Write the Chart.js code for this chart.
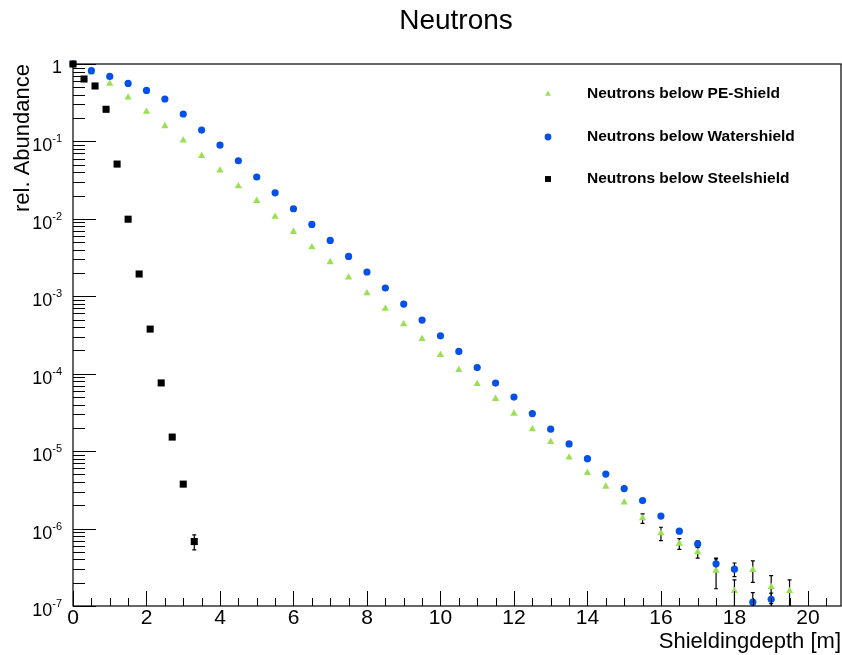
<!DOCTYPE html>
<html>
<head>
<meta charset="utf-8">
<title>Neutrons</title>
<script src="https://cdn.jsdelivr.net/npm/chart.js@4.4.0/dist/chart.umd.min.js"></script>
<style>
  html, body { margin: 0; padding: 0; background: #fff; overflow: hidden; }
  #wrap { width: 842px; height: 655px; position: relative; }
</style>
</head>
<body>
<div id="wrap"><canvas id="chart"></canvas></div>
<script>
var fontFam = '"Liberation Sans", Arial, Helvetica, sans-serif';

// PE shield (green triangles)
var peDepth = [0, 0.5, 1, 1.5, 2, 2.5, 3, 3.5, 4, 4.5, 5, 5.5, 6, 6.5, 7, 7.5, 8, 8.5, 9, 9.5,
  10, 10.5, 11, 11.5, 12, 12.5, 13, 13.5, 14, 14.5, 15, 15.5, 16, 16.5, 17, 17.5, 18, 18.5, 19, 19.5];
var peAbund = [1, 0.779, 0.556, 0.370, 0.242, 0.158, 0.103, 0.0648, 0.0422, 0.0265, 0.0171, 0.0107,
  0.00681, 0.00432, 0.00277, 0.00175, 0.00110, 6.9e-4, 4.37e-4, 2.82e-4, 1.75e-4, 1.12e-4, 7.4e-5,
  4.74e-5, 3.06e-5, 1.92e-5, 1.32e-5, 8.3e-6, 5.25e-6, 3.49e-6, 2.17e-6, 1.36e-6, 8.7e-7, 6.4e-7,
  4.95e-7, 2.87e-7, 1.57e-7, 2.92e-7, 1.77e-7, 1.57e-7];
var peErr = [0, 0, 0, 0, 0, 0, 0, 0, 0, 0, 0, 0, 0, 0, 0, 0, 0, 0, 0, 0,
  0, 0, 0, 0, 0, 0, 0, 0, 0, 0, 0, 1.9e-7, 1.7e-7, 1.0e-7, 0.8e-7, 1.2e-7, 0.6e-7, 0.9e-7, 0.7e-7, 0.6e-7];

// water shield (blue circles)
var waterDepth = [0, 0.5, 1, 1.5, 2, 2.5, 3, 3.5, 4, 4.5, 5, 5.5, 6, 6.5, 7, 7.5, 8, 8.5, 9, 9.5,
  10, 10.5, 11, 11.5, 12, 12.5, 13, 13.5, 14, 14.5, 15, 15.5, 16, 16.5, 17, 17.5, 18, 18.5, 19];
var waterAbund = [1, 0.819, 0.692, 0.561, 0.456, 0.353, 0.226, 0.140, 0.0898, 0.0563, 0.0347, 0.0217,
  0.0135, 0.00847, 0.00526, 0.00327, 0.00206, 0.00128, 7.93e-4, 4.93e-4, 3.09e-4, 1.94e-4, 1.20e-4,
  7.57e-5, 4.99e-5, 3.06e-5, 1.92e-5, 1.24e-5, 8.0e-6, 5.05e-6, 3.29e-6, 2.30e-6, 1.45e-6, 9.25e-7,
  6.34e-7, 3.50e-7, 2.99e-7, 1.12e-7, 1.22e-7];
var waterErr = [0, 0, 0, 0, 0, 0, 0, 0, 0, 0, 0, 0, 0, 0, 0, 0, 0, 0, 0, 0,
  0, 0, 0, 0, 0, 0, 0, 0, 0, 0, 0, 0, 0, 0.5e-7, 0.6e-7, 0.65e-7, 0.6e-7, 0.37e-7, 0.25e-7];

// steel shield (black squares)
var steelDepth = [0, 0.3, 0.6, 0.9, 1.2, 1.5, 1.8, 2.1, 2.4, 2.7, 3.0, 3.3];
var steelAbund = [1, 0.64, 0.52, 0.26, 0.051, 0.0099, 0.00194, 3.77e-4, 7.6e-5, 1.52e-5, 3.75e-6, 6.8e-7];
var steelErr = [0, 0, 0, 0, 0, 0, 0, 0, 0, 0, 0, 1.5e-7];

var seriesNames = ['Neutrons below PE-Shield', 'Neutrons below Watershield', 'Neutrons below Steelshield'];
var xTicks = [0, 2, 4, 6, 8, 10, 12, 14, 16, 18, 20];
var yTicks = [1e-7, 1e-6, 1e-5, 1e-4, 1e-3, 1e-2, 1e-1, 1];
var yTickBase = ['10', '10', '10', '10', '10', '10', '10', '1'];
var yTickExp = ['-7', '-6', '-5', '-4', '-3', '-2', '-1', ''];

function toPoints(xs, ys) {
  var pts = [];
  for (var i = 0; i < xs.length; i++) {
    pts.push({x: xs[i], y: ys[i]});
  }
  return pts;
}

function drawMarker(ctx, style, x, y, r, color) {
  ctx.fillStyle = color;
  ctx.beginPath();
  if (style == 'triangle') {
    ctx.moveTo(x, y - r);
    ctx.lineTo(x + r * 0.866, y + r * 0.5);
    ctx.lineTo(x - r * 0.866, y + r * 0.5);
    ctx.closePath();
  } else if (style == 'circle') {
    ctx.arc(x, y, r, 0, Math.PI * 2);
  } else {
    ctx.rect(x - r * 0.707, y - r * 0.707, r * 1.414, r * 1.414);
  }
  ctx.fill();
}

var rootLook = {
  id: 'rootLook',
  beforeDatasetsDraw: function(chart) {
    var ctx = chart.ctx;
    var ys = chart.scales.y;
    var area = chart.chartArea;
    ctx.save();
    ctx.strokeStyle = '#000';
    ctx.lineWidth = 1.2;
    chart.data.datasets.forEach(function(ds, i) {
      var meta = chart.getDatasetMeta(i);
      if (!ds.errors) return;
      for (var j = 0; j < ds.errors.length; j++) {
        var e = ds.errors[j];
        if (!e) continue;
        var v = ds.data[j].y;
        var px = meta.data[j].x;
        var top = ys.getPixelForValue(v + e);
        var bot = (v - e) > ys.min ? ys.getPixelForValue(v - e) : area.bottom;
        ctx.beginPath();
        ctx.moveTo(px, top);
        ctx.lineTo(px, bot);
        ctx.moveTo(px - 2, top);
        ctx.lineTo(px + 2, top);
        if (bot < area.bottom) {
          ctx.moveTo(px - 2, bot);
          ctx.lineTo(px + 2, bot);
        }
        ctx.stroke();
      }
    });
    ctx.restore();
  },
  afterDraw: function(chart) {
    var ctx = chart.ctx;
    var a = chart.chartArea;
    var xs = chart.scales.x;
    var ys = chart.scales.y;
    ctx.save();
    ctx.strokeStyle = '#000';
    ctx.lineWidth = 1.2;
    ctx.strokeRect(a.left, a.top, a.right - a.left, a.bottom - a.top);

    // tick marks inside the frame, root style
    ctx.lineWidth = 1;
    ctx.beginPath();
    for (var k = 0; k < yTicks.length; k++) {
      var py = Math.round(ys.getPixelForValue(yTicks[k])) + 0.5;
      ctx.moveTo(a.left, py);
      ctx.lineTo(a.left + 23, py);
      if (k < yTicks.length - 1) {
        for (var m = 2; m <= 9; m++) {
          var pm = Math.round(ys.getPixelForValue(m * yTicks[k])) + 0.5;
          ctx.moveTo(a.left, pm);
          ctx.lineTo(a.left + 12, pm);
        }
      }
    }
    for (var t = 0; t <= xs.max; t += 0.5) {
      var px = Math.round(xs.getPixelForValue(t)) + 0.5;
      var len = (t % 2 === 0) ? 15 : 8;
      ctx.moveTo(px, a.bottom);
      ctx.lineTo(px, a.bottom - len);
    }
    ctx.stroke();

    // y labels: 10 with a raised exponent
    ctx.fillStyle = '#000';
    ctx.textBaseline = 'alphabetic';
    ctx.textAlign = 'right';
    for (var n = 0; n < yTicks.length; n++) {
      var ty = ys.getPixelForValue(yTicks[n]);
      var right = 62;
      if (yTickExp[n]) {
        ctx.font = '11px ' + fontFam;
        ctx.fillText(yTickExp[n], right, ty + 1);
        right -= ctx.measureText(yTickExp[n]).width;
      }
      ctx.font = '18px ' + fontFam;
      ctx.fillText(yTickBase[n], right, ty + (yTickExp[n] ? 10 : 9));
    }

    ctx.font = '28px ' + fontFam;
    ctx.textAlign = 'center';
    ctx.fillText('Neutrons', 456, 29);

    // legend
    var rows = [94, 137, 179];
    chart.data.datasets.forEach(function(ds, i) {
      drawMarker(ctx, ds.pointStyle, 548, rows[i], i == 2 ? 4.2 : 3.4, ds.backgroundColor);
      ctx.fillStyle = '#000';
      ctx.font = 'bold 15.5px ' + fontFam;
      ctx.textAlign = 'left';
      ctx.textBaseline = 'middle';
      ctx.fillText(ds.label, 587, rows[i]);
    });
    ctx.restore();
  }
};

var ctx = document.getElementById('chart').getContext('2d');
var chart = new Chart(ctx, {
  type: 'scatter',
  data: {
    datasets: [
      { label: seriesNames[0], data: toPoints(peDepth, peAbund), errors: peErr, pointStyle: 'triangle',
        pointRadius: 4.2, backgroundColor: '#9ae052', borderWidth: 0, order: 2, clip: false },
      { label: seriesNames[1], data: toPoints(waterDepth, waterAbund), errors: waterErr, pointStyle: 'circle',
        pointRadius: 3.6, backgroundColor: '#0550e6', borderWidth: 0, order: 1, clip: false },
      { label: seriesNames[2], data: toPoints(steelDepth, steelAbund), errors: steelErr, pointStyle: 'rect',
        pointRadius: 5, backgroundColor: '#000000', borderWidth: 0, order: 0, clip: false }
    ]
  },
  options: {
    responsive: true,
    maintainAspectRatio: false,
    animation: false,
    events: [],
    layout: { autoPadding: false, padding: { top: 64, right: 1, left: 0, bottom: 0 } },
    plugins: {
      legend: { display: false },
      title: { display: false },
      tooltip: { enabled: false }
    },
    scales: {
      x: {
        type: 'linear',
        min: 0,
        max: 20.9,
        afterBuildTicks: function(scale) {
          scale.ticks = xTicks.map(function(v) { return {value: v}; });
        },
        afterFit: function(scale) {
          scale.height = 49;
          scale.paddingLeft = 0;
          scale.paddingRight = 0;
        },
        grid: { display: false, drawTicks: false },
        border: { display: false },
        ticks: { autoSkip: false, maxRotation: 0, padding: 0, color: '#000', font: { size: 21, family: fontFam } },
        title: { display: true, text: 'Shieldingdepth [m]', align: 'end', color: '#000',
          font: { size: 22, family: fontFam }, padding: { top: 0, bottom: 0 } }
      },
      y: {
        type: 'logarithmic',
        min: 1e-7,
        max: 1,
        afterBuildTicks: function(scale) {
          scale.ticks = yTicks.map(function(v) { return {value: v}; });
        },
        afterFit: function(scale) {
          scale.width = 73;
          scale.paddingTop = 0;
          scale.paddingBottom = 0;
        },
        grid: { display: false, drawTicks: false },
        border: { display: false },
        ticks: { display: false },
        title: { display: true, text: 'rel. Abundance', align: 'end', color: '#000',
          font: { size: 22, family: fontFam }, padding: { top: 10, bottom: 0 } }
      }
    }
  },
  plugins: [rootLook]
});
</script>
</body>
</html>
